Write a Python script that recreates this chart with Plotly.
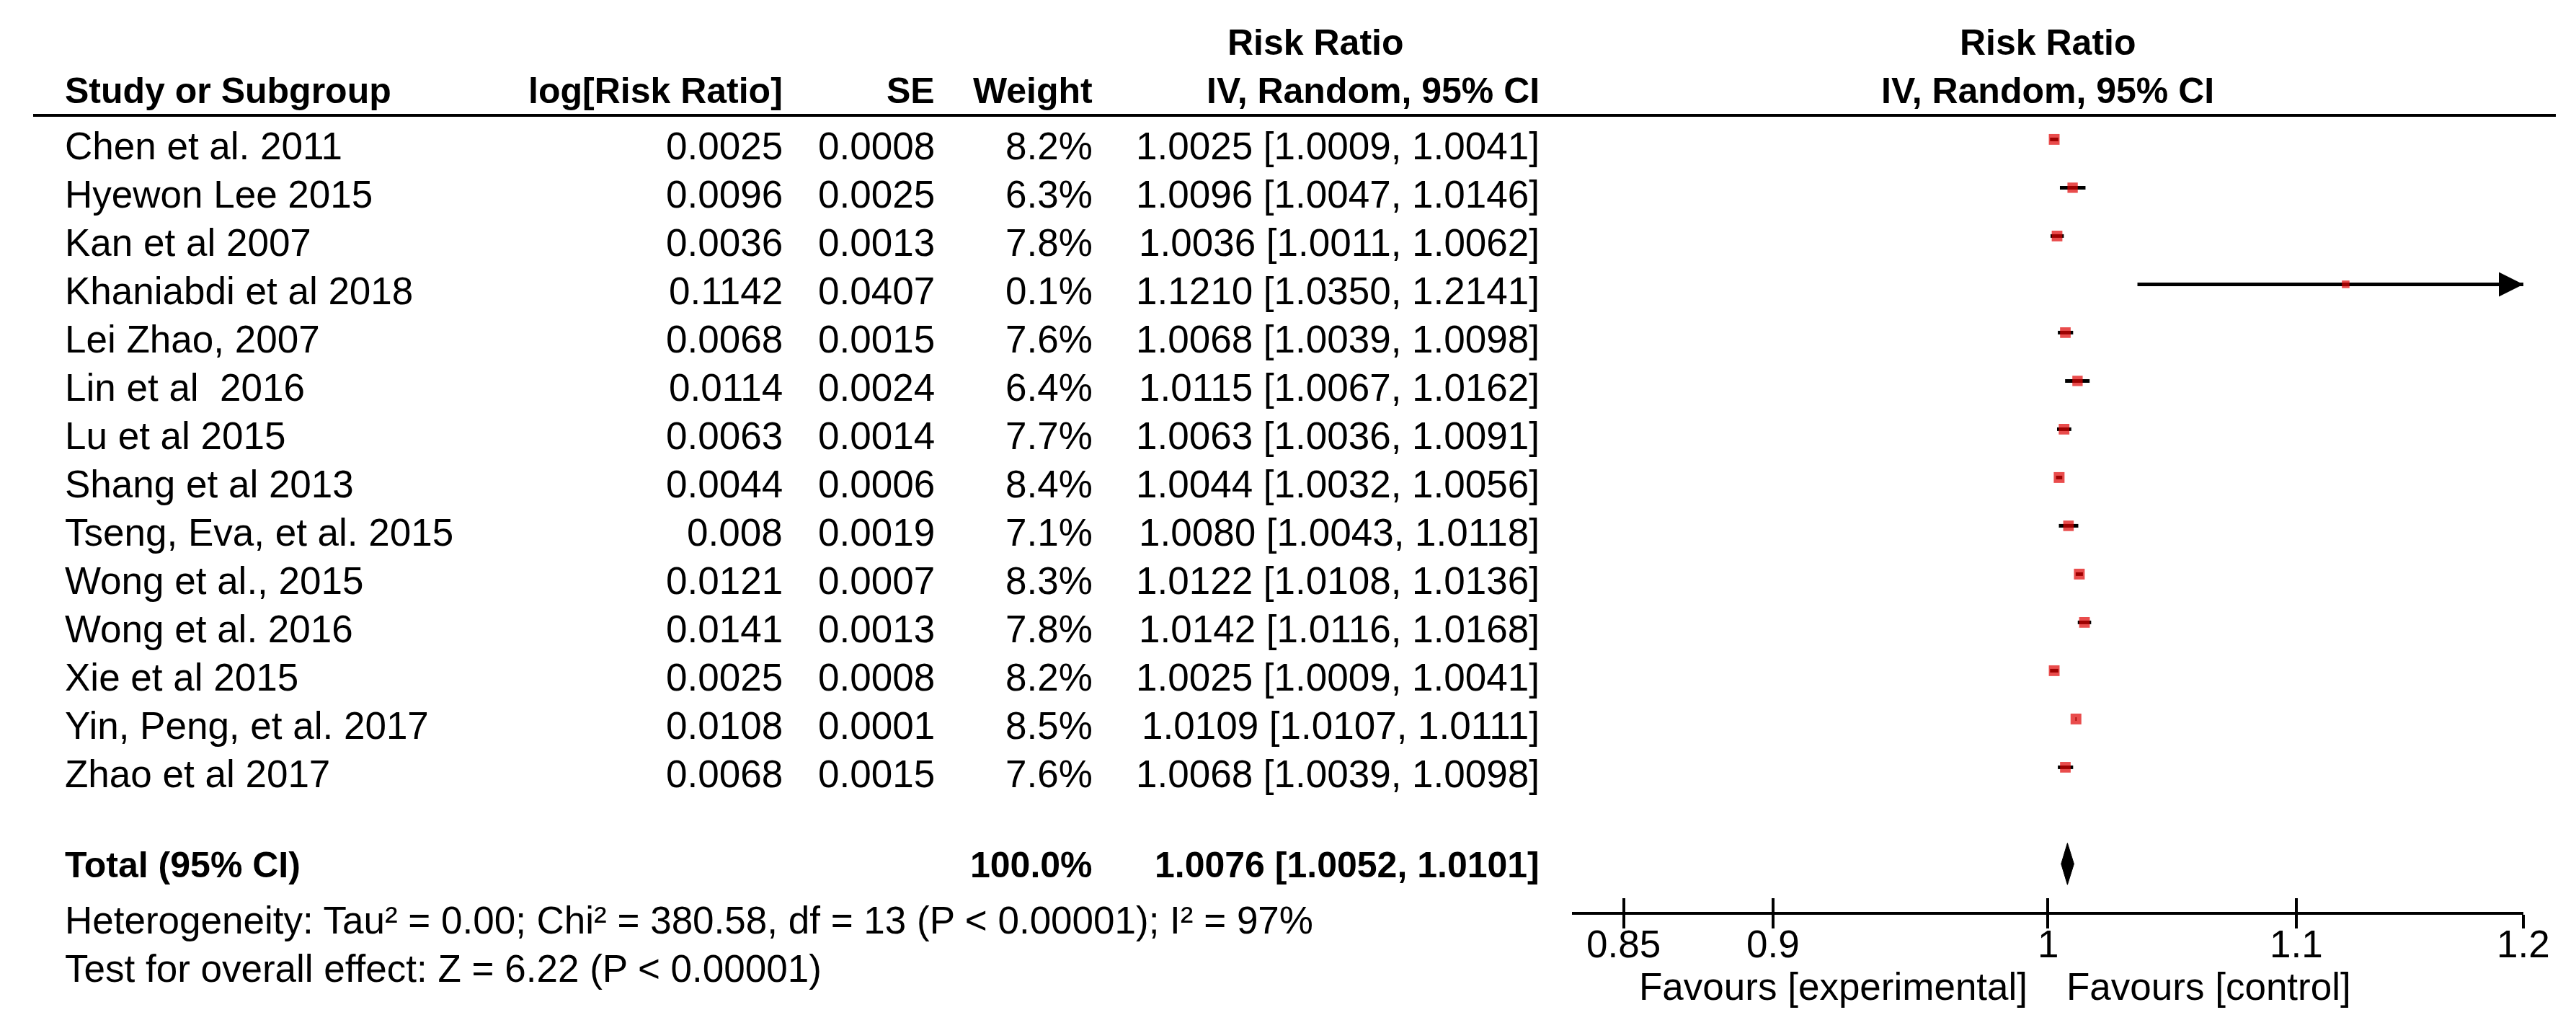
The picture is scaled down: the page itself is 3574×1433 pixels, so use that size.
import math
import plotly.graph_objects as go

# ---------------- data ----------------
studies = [
    "Chen et al. 2011", "Hyewon Lee 2015", "Kan et al 2007", "Khaniabdi et al 2018",
    "Lei Zhao, 2007", "Lin et al&nbsp; 2016", "Lu et al 2015", "Shang et al 2013",
    "Tseng, Eva, et al. 2015", "Wong et al., 2015", "Wong et al. 2016", "Xie et al 2015",
    "Yin, Peng, et al. 2017", "Zhao et al 2017",
]
log_rr = ["0.0025", "0.0096", "0.0036", "0.1142", "0.0068", "0.0114", "0.0063",
          "0.0044", "0.008", "0.0121", "0.0141", "0.0025", "0.0108", "0.0068"]
se = ["0.0008", "0.0025", "0.0013", "0.0407", "0.0015", "0.0024", "0.0014",
      "0.0006", "0.0019", "0.0007", "0.0013", "0.0008", "0.0001", "0.0015"]
weight = [8.2, 6.3, 7.8, 0.1, 7.6, 6.4, 7.7, 8.4, 7.1, 8.3, 7.8, 8.2, 8.5, 7.6]
rr = [1.0025, 1.0096, 1.0036, 1.1210, 1.0068, 1.0115, 1.0063,
      1.0044, 1.0080, 1.0122, 1.0142, 1.0025, 1.0109, 1.0068]
ci_low = [1.0009, 1.0047, 1.0011, 1.0350, 1.0039, 1.0067, 1.0036,
          1.0032, 1.0043, 1.0108, 1.0116, 1.0009, 1.0107, 1.0039]
ci_high = [1.0041, 1.0146, 1.0062, 1.2141, 1.0098, 1.0162, 1.0091,
           1.0056, 1.0118, 1.0136, 1.0168, 1.0041, 1.0111, 1.0098]
total_weight = 100.0
total_rr = 1.0076
total_low = 1.0052
total_high = 1.0101
heterogeneity_text = ("Heterogeneity: Tau² = 0.00; Chi² = 380.58, df = 13 "
                      "(P &lt; 0.00001); I² = 97%")
overall_text = "Test for overall effect: Z = 6.22 (P &lt; 0.00001)"
x_ticks = [0.85, 0.9, 1, 1.1, 1.2]
x_tick_labels = ["0.85", "0.9", "1", "1.1", "1.2"]
x_limit = 1.2
favours_left = "Favours [experimental]"
favours_right = "Favours [control]"

# ---------------- layout helpers ----------------
W, H = 3574, 1433
FONT = "Liberation Sans, Arial, sans-serif"
FS = 53
FSB = 50
RED = "#E00000"


def pxx(p):
    return p / W


def pyy(p):
    return 1 - p / H


ROW0, PITCH = 185.4, 67.0
TOP_PX, BOT_PX = 152, 1257
y_range = [(BOT_PX - ROW0) / PITCH, (TOP_PX - ROW0) / PITCH]
n = len(studies)
rows = list(range(n))
total_row = n + 1
x_dom = [pxx(2173), pxx(3493)]
x_rng = [math.log10(1 / x_limit), math.log10(x_limit)]

fig = go.Figure()

# confidence-interval lines
cx, cy = [], []
for i in rows:
    cx += [ci_low[i], ci_high[i], None]
    cy += [i, i, None]
fig.add_trace(go.Scatter(x=cx, y=cy, mode="lines",
                         line=dict(color="black", width=5),
                         hoverinfo="skip", showlegend=False))

# weight squares
max_w = max(weight)
sizes = [10 + 5 * math.sqrt(w / max_w) for w in weight]
fig.add_trace(go.Scatter(x=rr, y=rows, mode="markers",
                         marker=dict(symbol="square", size=sizes, color=RED,
                                     line=dict(width=0)),
                         hoverinfo="skip", showlegend=False))

# arrowheads for CIs beyond the axis
arr_rows = [i for i in rows if ci_high[i] > x_limit]
if arr_rows:
    fig.add_trace(go.Scatter(x=[x_limit] * len(arr_rows), y=arr_rows, mode="markers",
                             marker=dict(symbol="arrow-right", size=34, color="black",
                                         line=dict(width=0)),
                             cliponaxis=False, hoverinfo="skip", showlegend=False))

# pooled diamond
DH = 0.43
fig.add_trace(go.Scatter(
    x=[total_low, total_rr, total_high, total_rr, total_low],
    y=[total_row, total_row - DH, total_row, total_row + DH, total_row],
    mode="lines", fill="toself", fillcolor="black",
    line=dict(color="black", width=1), hoverinfo="skip", showlegend=False))

# invisible trace to activate overlay axis (for crossing ticks)
fig.add_trace(go.Scatter(x=[1], y=[0], xaxis="x2", mode="markers",
                         marker=dict(opacity=0), hoverinfo="skip", showlegend=False))

ann = []


def txt(text, x, y, xanchor, yref="paper", yshift=0, bold=False):
    ann.append(dict(text=("<b>%s</b>" % text) if bold else text,
                    x=x, y=y, xref="paper", yref=yref, xanchor=xanchor,
                    yanchor="middle", yshift=yshift, showarrow=False,
                    font=dict(family=FONT, size=FSB if bold else FS, color="black")))


C_NAME = pxx(80)
C_LOG = pxx(1080)
C_SE = pxx(1291)
C_W = pxx(1510)
C_CI = pxx(2130)

# headers
txt("Risk Ratio", pxx(1818), pyy(50.5), "center", bold=True)
txt("Risk Ratio", pxx(2833), pyy(50.5), "center", bold=True)
txt("Study or Subgroup", C_NAME, pyy(118.3), "left", bold=True)
txt("log[Risk Ratio]", C_LOG, pyy(118.3), "right", bold=True)
txt("SE", C_SE, pyy(118.3), "right", bold=True)
txt("Weight", C_W, pyy(118.3), "right", bold=True)
txt("IV, Random, 95% CI", C_CI, pyy(118.3), "right", bold=True)
txt("IV, Random, 95% CI", pxx(2833), pyy(118.3), "center", bold=True)

# study rows
RS = -9.5
for i in rows:
    txt(studies[i], C_NAME, i, "left", yref="y", yshift=RS)
    txt(log_rr[i], C_LOG, i, "right", yref="y", yshift=RS)
    txt(se[i], C_SE, i, "right", yref="y", yshift=RS)
    txt("%.1f%%" % weight[i], C_W, i, "right", yref="y", yshift=RS)
    txt("%.4f [%.4f, %.4f]" % (rr[i], ci_low[i], ci_high[i]), C_CI, i, "right",
        yref="y", yshift=RS)

# total row
txt("Total (95% CI)", C_NAME, total_row, "left", yref="y", yshift=-2, bold=True)
txt("%.1f%%" % total_weight, C_W, total_row, "right", yref="y", yshift=-2, bold=True)
txt("%.4f [%.4f, %.4f]" % (total_rr, total_low, total_high), C_CI, total_row, "right",
    yref="y", yshift=-2, bold=True)

# footers
txt(heterogeneity_text, C_NAME, pyy(1268), "left")
txt(overall_text, C_NAME, pyy(1335), "left")

# tick labels (placed on the x scale)
for v, lab in zip(x_ticks, x_tick_labels):
    ann.append(dict(text=lab, x=math.log10(v), y=pyy(1301), xref="x", yref="paper",
                    xanchor="center", yanchor="middle", showarrow=False,
                    font=dict(family=FONT, size=FS, color="black")))

# favours labels
for text, anchor, shift in [(favours_left, "right", -26), (favours_right, "left", 24)]:
    ann.append(dict(text=text, x=0, y=pyy(1360), xref="x", yref="paper",
                    xanchor=anchor, yanchor="middle", xshift=shift, showarrow=False,
                    font=dict(family=FONT, size=FS, color="black")))

shapes = [
    dict(type="line", xref="paper", yref="paper", x0=pxx(38), x1=pxx(3538),
         y0=pyy(TOP_PX), y1=pyy(TOP_PX), line=dict(color="black", width=4)),
    dict(type="line", xref="x", yref="y domain", x0=0, x1=0, y0=0, y1=1,
         line=dict(color="#444444", width=3.5)),
]

axis_common = dict(type="log", range=x_rng, domain=x_dom, tickvals=x_ticks,
                   showgrid=False, zeroline=False, tickwidth=4, tickcolor="black",
                   ticklen=19, fixedrange=True, showticklabels=False)

fig.update_layout(
    width=W, height=H, margin=dict(l=0, r=0, t=0, b=0),
    paper_bgcolor="white", plot_bgcolor="white",
    font=dict(family=FONT, size=FS, color="black"),
    showlegend=False,
    xaxis=dict(**axis_common, anchor="y", ticks="outside",
               showline=True, linecolor="black", linewidth=4),
    xaxis2=dict(**axis_common, overlaying="x", anchor="y", ticks="inside",
                showline=False),
    yaxis=dict(domain=[pyy(BOT_PX), pyy(TOP_PX)], range=y_range, visible=False,
               fixedrange=True),
    annotations=ann,
    shapes=shapes,
)

fig.write_html("out.html")
